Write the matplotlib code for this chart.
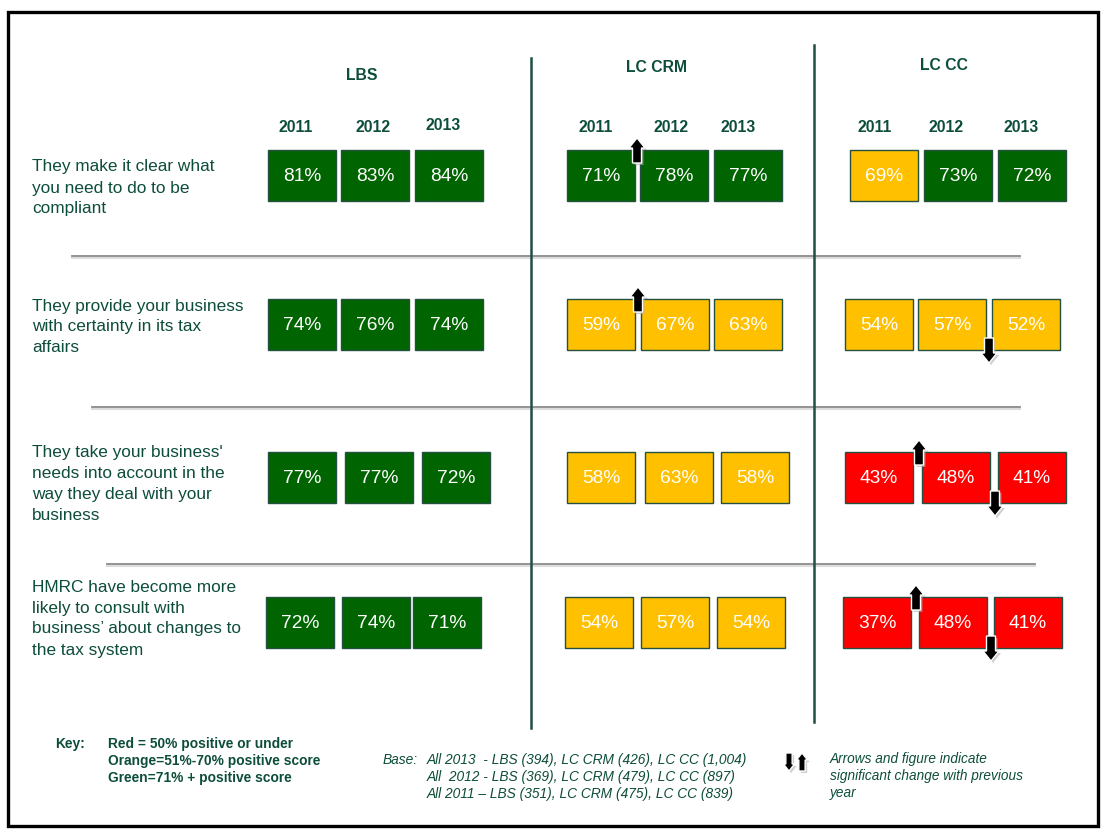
"""
HMRC perception scores by customer group, 2011-2013.

Traffic-light grid: one row per statement, three year boxes per group,
with arrows marking significant change against the previous year.
Output: out.png
"""

import matplotlib
matplotlib.use("Agg")
import matplotlib.pyplot as plt
from matplotlib.patches import Rectangle, Polygon

plt.rcParams["font.family"] = ["Liberation Sans", "DejaVu Sans"]

# ============================== DATA ==============================
groups = ["LBS", "LC CRM", "LC CC"]
years = ["2011", "2012", "2013"]
statements = [
    ["They make it clear what", "you need to do to be", "compliant"],
    ["They provide your business", "with certainty in its tax", "affairs"],
    ["They take your business'", "needs into account in the",
     "way they deal with your", "business"],
    ["HMRC have become more", "likely to consult with",
     "business\u2019 about changes to", "the tax system"],
]
lbs_scores = [[81, 83, 84], [74, 76, 74], [77, 77, 72], [72, 74, 71]]
crm_scores = [[71, 78, 77], [59, 67, 63], [58, 63, 58], [54, 57, 54]]
cc_scores = [[69, 73, 72], [54, 57, 52], [43, 48, 41], [37, 48, 41]]
scores = {"LBS": lbs_scores, "LC CRM": crm_scores, "LC CC": cc_scores}

# significant changes: (group, statement row, year index, direction)
changes = [
    ("LC CRM", 0, 1, "up"),
    ("LC CRM", 1, 1, "up"),
    ("LC CC", 1, 2, "down"),
    ("LC CC", 2, 1, "up"),
    ("LC CC", 2, 2, "down"),
    ("LC CC", 3, 1, "up"),
    ("LC CC", 3, 2, "down"),
]

key_lines = ["Red = 50% positive or under",
             "Orange=51%-70% positive score",
             "Green=71% + positive score"]
base_lines = ["All 2013  - LBS (394), LC CRM (426), LC CC (1,004)",
              "All  2012 - LBS (369), LC CRM (479), LC CC (897)",
              "All 2011 \u2013 LBS (351), LC CRM (475), LC CC (839)"]
arrow_note = ["Arrows and figure indicate",
              "significant change with previous",
              "year"]

# ============================== LAYOUT (pixels) ==============================
W, H = 1103, 832
TXT = "#0d4d3b"
RED, ORANGE, GREEN = "#ff0000", "#ffc000", "#006400"

box_left = {
    "LBS": [[268, 341, 415], [268, 341, 415], [268, 345, 422], [266, 342, 413]],
    "LC CRM": [[567, 640, 714], [567, 641, 714], [567, 645, 721], [565, 641, 717]],
    "LC CC": [[850, 924, 998], [845, 918, 992], [845, 922, 998], [843, 919, 994]],
}
row_top = [150, 299, 452, 597]
BOX_W, BOX_H = 68, 51
label_top = [167, 306, 452, 587]
header_pos = {"LBS": (362, 75), "LC CRM": (657, 67), "LC CC": (944, 66)}
year_pos = {"LBS": [296, 373, 443], "LC CRM": [596, 671, 738], "LC CC": [875, 946, 1021]}
year_y = {"LBS": [127, 127, 125], "LC CRM": [127, 128, 128], "LC CC": [128, 128, 127]}


def score_colour(v):
    if v <= 50:
        return RED
    if v <= 70:
        return ORANGE
    return GREEN


def draw_arrow(ax, xc, y_tail, y_tip, scale=1.0):
    # block arrow: shaft plus triangular head, drawn with a soft shadow
    sw, hw, hl = 4.5 * scale, 8 * scale, 10 * scale
    d = 1 if y_tip > y_tail else -1
    yb = y_tip - d * hl
    pts = [(xc - sw, y_tail), (xc + sw, y_tail), (xc + sw, yb), (xc + hw, yb),
           (xc, y_tip), (xc - hw, yb), (xc - sw, yb)]
    shadow = [(x + 2, y + 2) for x, y in pts]
    ax.add_patch(Polygon(shadow, closed=True, facecolor="#b0b0b0",
                         edgecolor="none", alpha=0.6, zorder=6))
    ax.add_patch(Polygon(pts, closed=True, facecolor="black",
                         edgecolor="white", lw=1.0, zorder=7))


fig = plt.figure(figsize=(W / 100, H / 100), dpi=100)
ax = fig.add_axes([0, 0, 1, 1])
ax.set_xlim(0, W)
ax.set_ylim(H, 0)
ax.axis("off")

# outer frame
ax.add_patch(Rectangle((8, 12), 1090, 814, facecolor="none",
                       edgecolor="black", lw=2.4, zorder=1))

# statement separators
for x0, x1, y in [(72, 1020, 256), (92, 1020, 407), (107, 1035, 564)]:
    ax.plot([x0, x1], [y + 1.5, y + 1.5], color="#dcdcdc", lw=1.5, zorder=2)
    ax.plot([x0, x1], [y, y], color="#8a8a8a", lw=1.3, zorder=2)

# group dividers
ax.plot([531, 531], [58, 728], color="#1f4e44", lw=1.8, zorder=3)
ax.plot([814, 814], [45, 722], color="#1f4e44", lw=1.8, zorder=3)

# headers
for g in groups:
    hx, hy = header_pos[g]
    ax.text(hx, hy, g, ha="center", va="center", fontsize=11.3,
            fontweight="bold", color=TXT)
    for j, yr in enumerate(years):
        ax.text(year_pos[g][j], year_y[g][j], yr, ha="center", va="center",
                fontsize=11.3, fontweight="bold", color=TXT)

# statement labels
for i, lines in enumerate(statements):
    for k, line in enumerate(lines):
        ax.text(32, label_top[i] + 21 * k, line, ha="left", va="center",
                fontsize=12.4, color=TXT)

# score boxes
for g in groups:
    for i, row in enumerate(scores[g]):
        for j, v in enumerate(row):
            x0 = box_left[g][i][j]
            y0 = row_top[i]
            ax.add_patch(Rectangle((x0, y0), BOX_W, BOX_H,
                                   facecolor=score_colour(v),
                                   edgecolor="#24503f", lw=1.0, zorder=4))
            ax.text(x0 + BOX_W / 2, y0 + BOX_H / 2 + 1, f"{v}%",
                    ha="center", va="center", fontsize=13.8, color="white",
                    zorder=5)

# significance arrows
for g, i, j, direction in changes:
    xc = box_left[g][i][j] - 3
    if direction == "up":
        top = row_top[i]
        draw_arrow(ax, xc, top + 13, top - 12)
    else:
        bot = row_top[i] + BOX_H
        draw_arrow(ax, xc, bot - 12, bot + 13)

# key
ax.text(55, 744, "Key:", ha="left", va="center", fontsize=9.9,
        fontweight="bold", color=TXT)
for k, line in enumerate(key_lines):
    ax.text(108, 744 + 17 * k, line, ha="left", va="center", fontsize=9.9,
            fontweight="bold", color=TXT)

# base sizes
ax.text(383, 760, "Base:", ha="left", va="center", fontsize=9.9,
        style="italic", color=TXT)
for k, line in enumerate(base_lines):
    ax.text(427, 760 + 17 * k, line, ha="left", va="center", fontsize=9.9,
            style="italic", color=TXT)

# arrow legend
draw_arrow(ax, 789, 753, 771, scale=0.7)
draw_arrow(ax, 802, 771, 753, scale=0.7)
for k, line in enumerate(arrow_note):
    ax.text(830, 759 + 17 * k, line, ha="left", va="center", fontsize=9.8,
            style="italic", color=TXT)

fig.savefig("out.png", dpi=100, facecolor="white")
